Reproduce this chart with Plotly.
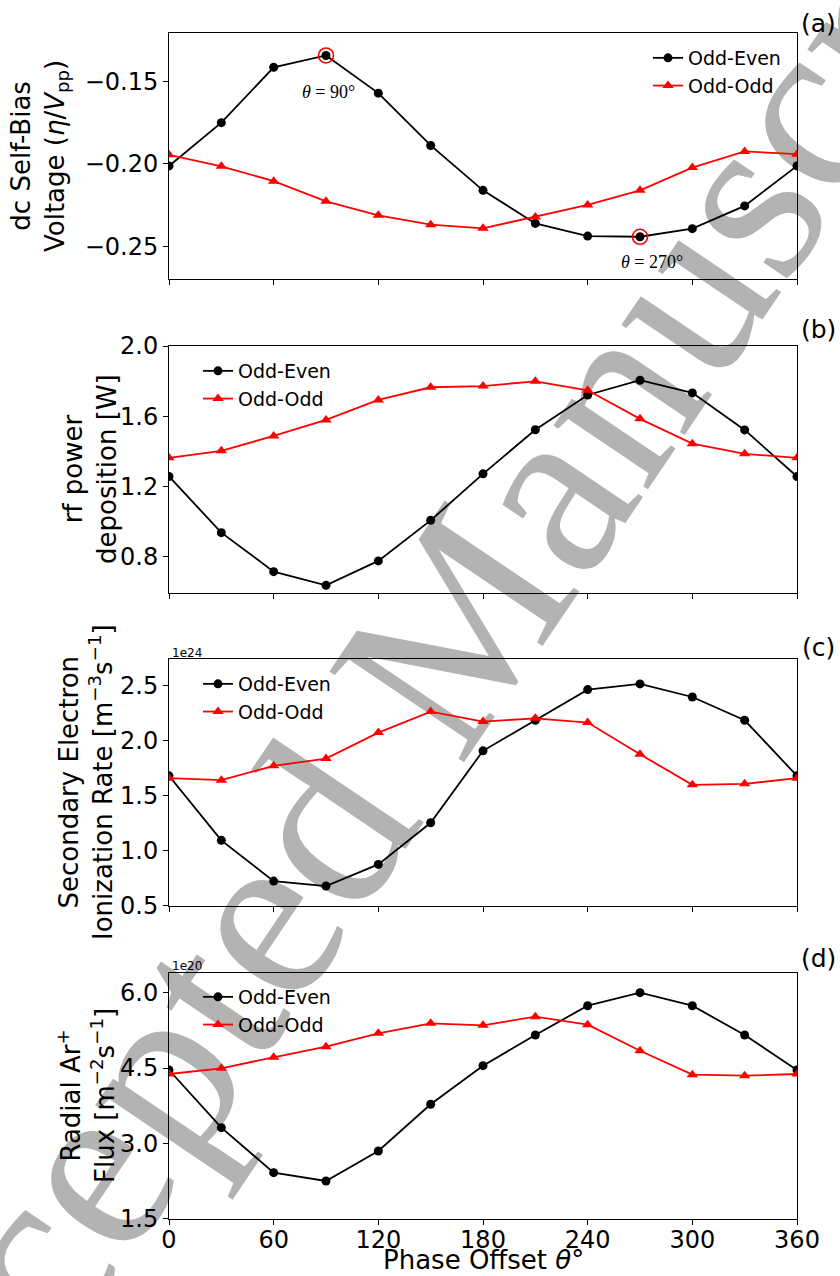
import plotly.graph_objects as go

# ---------------- data ----------------
phase = [0, 30, 60, 90, 120, 150, 180, 210, 240, 270, 300, 330, 360]

bias_odd_even = [-0.2012, -0.1750, -0.1415, -0.1343, -0.1571, -0.1888, -0.2160,
                 -0.2360, -0.2437, -0.2441, -0.2392, -0.2254, -0.2012]
bias_odd_odd = [-0.1945, -0.2014, -0.2104, -0.2226, -0.2311, -0.2368, -0.2390,
                -0.2321, -0.2248, -0.2160, -0.2022, -0.1924, -0.1941]

power_odd_even = [1.257, 0.937, 0.715, 0.637, 0.776, 1.007, 1.272,
                  1.523, 1.721, 1.805, 1.733, 1.522, 1.257]
power_odd_odd = [1.363, 1.403, 1.488, 1.579, 1.693, 1.765, 1.772,
                 1.799, 1.748, 1.585, 1.444, 1.386, 1.363]

# ionization rate in units of 1e24 m^-3 s^-1
ion_odd_even = [1.682, 1.095, 0.724, 0.679, 0.876, 1.255, 1.910,
                2.188, 2.467, 2.519, 2.400, 2.188, 1.682]
ion_odd_odd = [1.661, 1.643, 1.773, 1.839, 2.076, 2.267, 2.176,
               2.206, 2.167, 1.878, 1.600, 1.609, 1.661]

# radial Ar+ flux in units of 1e20 m^-2 s^-1
flux_odd_even = [4.461, 3.312, 2.416, 2.251, 2.848, 3.778, 4.547,
                 5.158, 5.741, 6.000, 5.741, 5.158, 4.461]
flux_odd_odd = [4.381, 4.495, 4.714, 4.925, 5.192, 5.391, 5.351,
                5.522, 5.363, 4.845, 4.368, 4.348, 4.381]

highlight_phase = [90, 270]
series_names = ["Odd-Even", "Odd-Odd"]
x_ticks = [0, 60, 120, 180, 240, 300, 360]

# ---------------- figure ----------------
W, H = 840, 1276
L, R = 169, 797
FONT = "DejaVu Sans"


def px_x(p):
    return (p - L) / (R - L)


def px_y(p):
    return 1 - p / H


panels = [
    dict(top=32.7, bot=278.7, rng=[-0.2695, -0.1205], dtick=0.05, fmt=".2f",
         even=bias_odd_even, odd=bias_odd_odd, legend="legend"),
    dict(top=346.0, bot=592.7, rng=[0.595, 2.0], dtick=0.4, fmt=".1f", tick0=0.8,
         even=power_odd_even, odd=power_odd_odd, legend="legend2"),
    dict(top=659.3, bot=905.7, rng=[0.5, 2.743], dtick=0.5, fmt=".1f",
         even=ion_odd_even, odd=ion_odd_odd, legend="legend3"),
    dict(top=972.7, bot=1218.7, rng=[1.5, 6.398], dtick=1.5, fmt=".1f", tick0=1.5,
         even=flux_odd_even, odd=flux_odd_odd, legend="legend4"),
]

fig = go.Figure()
layout = dict(
    width=W, height=H,
    margin=dict(l=L, r=W - R, t=0, b=0, autoexpand=False),
    paper_bgcolor="white", plot_bgcolor="rgba(0,0,0,0)",
    font=dict(family=FONT, color="black", size=24),
    annotations=[], shapes=[],
)

for i, p in enumerate(panels):
    n = "" if i == 0 else str(i + 1)
    xa, ya = "x" + n, "y" + n
    layout["xaxis" + n] = dict(
        domain=[0, 1], anchor=ya, range=[0, 360], tickvals=x_ticks,
        showticklabels=(i == 3), ticks="outside", ticklen=5, tickwidth=1,
        tickcolor="black", showline=True, linecolor="black", linewidth=1,
        mirror=True, showgrid=False, zeroline=False,
        tickfont=dict(size=24, family=FONT), ticklabelstandoff=-6,
    )
    ya_dict = dict(
        domain=[px_y(p["bot"]), px_y(p["top"])], anchor=xa, range=p["rng"],
        dtick=p["dtick"], tickformat=p["fmt"], ticks="outside", ticklen=5,
        tickwidth=1, tickcolor="black", showline=True, linecolor="black",
        linewidth=1, mirror=True, showgrid=False, zeroline=False,
        tickfont=dict(size=24, family=FONT),
    )
    if "tick0" in p:
        ya_dict["tick0"] = p["tick0"]
    layout["yaxis" + n] = ya_dict

    fig.add_trace(go.Scatter(
        x=phase, y=p["even"], name=series_names[0], mode="lines+markers",
        line=dict(color="black", width=1.8),
        marker=dict(symbol="circle", size=9, color="black"),
        xaxis=xa, yaxis=ya, legend=p["legend"],
    ))
    fig.add_trace(go.Scatter(
        x=phase, y=p["odd"], name=series_names[1], mode="lines+markers",
        line=dict(color="red", width=1.8),
        marker=dict(symbol="triangle-up", size=10, color="red"),
        xaxis=xa, yaxis=ya, legend=p["legend"],
    ))

# highlighted extrema in panel (a)
hl_y = [bias_odd_even[phase.index(v)] for v in highlight_phase]
fig.add_trace(go.Scatter(
    x=highlight_phase, y=hl_y, mode="markers", showlegend=False,
    marker=dict(symbol="circle-open", size=15, color="red", line=dict(width=1.6)),
    xaxis="x", yaxis="y",
))

# legends
leg_common = dict(bgcolor="rgba(0,0,0,0)", borderwidth=0,
                  font=dict(size=19, family=FONT), xanchor="left", yanchor="top",
                  tracegroupgap=0)
layout["legend"] = dict(x=px_x(648), y=px_y(39), **leg_common)
layout["legend2"] = dict(x=px_x(198), y=px_y(352), **leg_common)
layout["legend3"] = dict(x=px_x(198), y=px_y(665), **leg_common)
layout["legend4"] = dict(x=px_x(198), y=px_y(978), **leg_common)

ann = layout["annotations"]


def add_text(text, x, y, size, **kw):
    d = dict(text=text, x=px_x(x), y=px_y(y), xref="paper", yref="paper",
             showarrow=False, xanchor="center", yanchor="middle",
             font=dict(size=size, family=kw.pop("family", FONT), color="black"))
    d.update(kw)
    ann.append(d)


# y-axis titles
add_text("dc Self-Bias<br>Voltage (<i>η</i>/<i>V</i><sub>pp</sub>)", 40, 156, 26, textangle=-90)
add_text("rf power<br>deposition [W]", 90, 469, 26, textangle=-90)
add_text("Secondary Electron<br>Ionization Rate [m<sup>−3</sup>s<sup>−1</sup>]", 86, 782, 26, textangle=-90)
add_text("Radial Ar<sup>+</sup><br>Flux [m<sup>−2</sup>s<sup>−1</sup>]", 86, 1096, 26, textangle=-90)

# x-axis title
add_text("Phase Offset <i>θ</i>°", 483, 1260, 26)

# panel labels
for lab, yy in zip(["(a)", "(b)", "(c)", "(d)"], [24, 330, 647, 958]):
    add_text(lab, 818, yy, 25)

# offset (scale) texts
add_text("1e24", 170, 653, 12, xanchor="left")
add_text("1e20", 170, 966, 12, xanchor="left")

# theta annotations
add_text("<i>θ</i> = 90°", 328, 92, 18, family="Liberation Serif")
add_text("<i>θ</i> = 270°", 652, 262, 18, family="Liberation Serif")

# watermark (drawn below the data)
cx, cy = 405, 652
layout["shapes"].append(dict(
    type="rect", xref="paper", yref="paper",
    x0=px_x(cx - 5), x1=px_x(cx + 5), y0=px_y(cy + 5), y1=px_y(cy - 5),
    line=dict(width=0), fillcolor="rgba(0,0,0,0)", layer="below",
    label=dict(text="Accepted Manuscript", textangle=-56,
               textposition="middle center",
               font=dict(size=248, family="Liberation Serif", color="#b3b3b3")),
))

fig.update_layout(**layout)
fig.write_html("out.html")
